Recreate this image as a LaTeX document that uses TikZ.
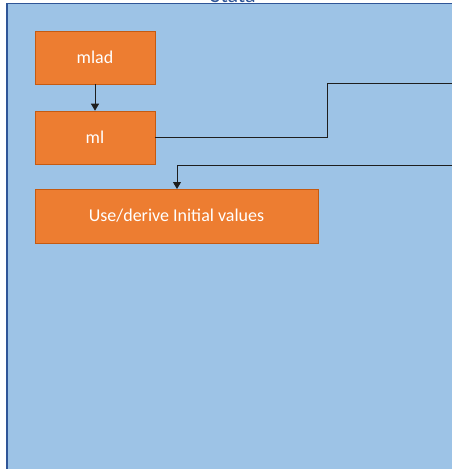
\documentclass[tikz,border=0pt]{standalone}
\usepackage{fontspec}
\setmainfont{Carlito}
\usetikzlibrary{arrows.meta}
\definecolor{panelblue}{HTML}{9DC3E6}
\definecolor{panelline}{HTML}{2F5597}
\definecolor{boxorange}{HTML}{ED7D31}
\definecolor{boxline}{HTML}{C55A11}
\definecolor{conn}{HTML}{1E1E1E}
\begin{document}
\begin{tikzpicture}[x=1pt,y=-1pt,
  box/.style={draw=boxline,line width=0.6pt,fill=boxorange,text=white,font=\fontsize{18}{21}\selectfont,inner sep=0pt},
  link/.style={draw=conn,line width=1pt},
  tip/.style={-{Triangle[width=8pt,length=7pt]}}]
\useasboundingbox (0,0) rectangle (451,469);
\fill[white] (0,0) rectangle (451,469);
\fill[panelblue] (7,3.5) rectangle (460,480);
\draw[panelline,line width=1.2pt] (7,480) -- (7,3.5) -- (460,3.5);
\node[anchor=base,text=panelline,font=\fontsize{22}{26}\selectfont] (title) at (233,2.5) {Stata};
\node[box,minimum width=120pt,minimum height=53pt] (mlad) at (95,57.5) {mlad};
\node[box,minimum width=120pt,minimum height=53pt] (ml) at (95,137.5) {ml};
\node[box,minimum width=283pt,minimum height=54pt] (init) at (176.5,216) {Use/derive Initial values};
\coordinate (out1) at (460,83);
\coordinate (in1) at (460,165);
\draw[link,tip] (mlad.south) -- (ml.north);
\draw[link] (ml.east) -- (327,137.5) -- (327,83) -- (out1);
\draw[link,tip] (in1) -- (177,165) -- (177,189);
\end{tikzpicture}
\end{document}
